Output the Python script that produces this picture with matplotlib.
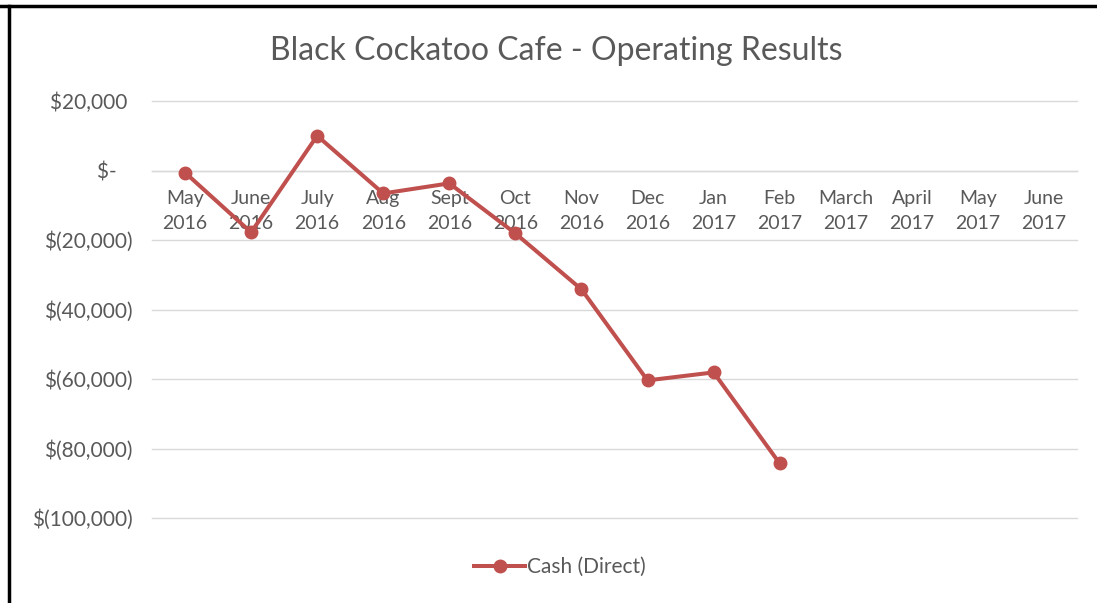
import matplotlib
matplotlib.use("Agg")
import matplotlib.pyplot as plt
from matplotlib.ticker import FuncFormatter, FixedLocator
from matplotlib.lines import Line2D

months = ["May\n2016", "June\n2016", "July\n2016", "Aug\n2016", "Sept\n2016", "Oct\n2016",
          "Nov\n2016", "Dec\n2016", "Jan\n2017", "Feb\n2017", "March\n2017", "April\n2017",
          "May\n2017", "June\n2017"]
cash_direct = [-600, -17800, 10000, -6600, -3700, -18100, -34200, -60400, -58100, -84300]
y_ticks = [20000, 0, -20000, -40000, -60000, -80000, -100000]

plt.rcParams['font.family'] = ['Lato', 'DejaVu Sans']
text_color = "#595959"
line_color = "#C0504D"

fig = plt.figure(figsize=(10.97, 6.03), dpi=100)
ax = fig.add_axes([152/1097, 1 - 518/603, (1077-152)/1097, (518-101)/603])

for s in ['top', 'right', 'left']:
    ax.spines[s].set_visible(False)
ax.spines['bottom'].set_position(('data', 0))
ax.spines['bottom'].set_color("#D9D9D9")
ax.spines['bottom'].set_linewidth(1)

x = list(range(len(cash_direct)))
ax.plot(x, cash_direct, color=line_color, lw=2.9, marker='o', ms=9, zorder=3,
        solid_capstyle='round', solid_joinstyle='round')

ax.set_xlim(-0.5, len(months) - 0.5)
ax.set_ylim(-100000, 20000)
ax.set_xticks(range(len(months)))
ax.set_xticklabels(months)
ax.yaxis.set_major_locator(FixedLocator(y_ticks))

def fmt(v, pos):
    if v == 0:
        return "$-   "
    if v < 0:
        return "$({:,.0f})".format(-v)
    return "${:,.0f} ".format(v)

ax.yaxis.set_major_formatter(FuncFormatter(fmt))
ax.tick_params(axis='y', length=0, pad=14, labelsize=15, labelcolor=text_color)
ax.tick_params(axis='x', length=0, pad=14, labelsize=14, labelcolor=text_color)
for lbl in ax.get_xticklabels():
    lbl.set_linespacing(1.55)

ax.grid(axis='y', color="#D9D9D9", lw=1)
for gl in ax.get_ygridlines():
    gl.set_clip_on(False)
ax.set_axisbelow(True)

fig.text(556/1097, 1 - 51/603, "Black Cockatoo Cafe - Operating Results",
         ha='center', va='center', fontsize=23, color=text_color)

handle = Line2D([], [], color=line_color, lw=2.9, marker='o', ms=9)
fig.legend([handle], ["Cash (Direct)"], loc='center', bbox_to_anchor=(560/1097, 1 - 567/603),
           frameon=False, fontsize=15, labelcolor=text_color, handlelength=2.45,
           handletextpad=0.1)

# Partial frame (top and left borders)
fig.add_artist(Line2D([0, 1], [1 - 6/603, 1 - 6/603], transform=fig.transFigure,
                      color='black', lw=2.5))
fig.add_artist(Line2D([9/1097, 9/1097], [0, 1 - 6/603], transform=fig.transFigure,
                      color='black', lw=2.5))

fig.savefig("out.png", dpi=100)
